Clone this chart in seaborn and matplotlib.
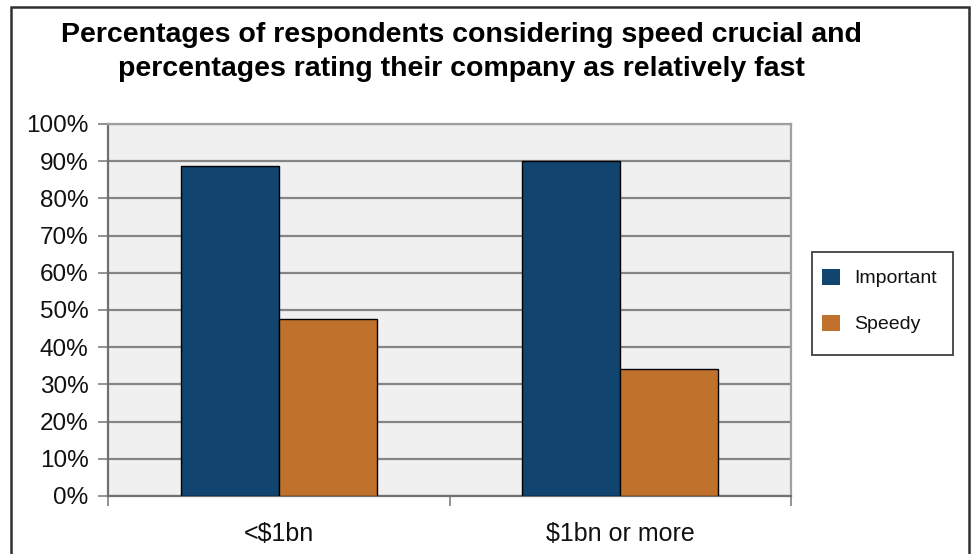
import matplotlib
matplotlib.use("Agg")
import matplotlib.pyplot as plt
import seaborn as sns
import pandas as pd
from matplotlib.patches import Rectangle

categories = ["<$1bn", "$1bn or more"]
important = [88.7, 90.0]
speedy = [47.7, 34.2]
series_names = ["Important", "Speedy"]
y_ticks = [0, 10, 20, 30, 40, 50, 60, 70, 80, 90, 100]

df = pd.DataFrame({
    "category": categories * 2,
    "value": important + speedy,
    "series": [series_names[0]] * 2 + [series_names[1]] * 2,
})

sns.set_theme(style="white")
plt.rcParams["font.family"] = ["Liberation Sans", "DejaVu Sans"]

fig = plt.figure(figsize=(9.71, 5.54), dpi=100)
ax = fig.add_axes([108 / 971, 58 / 554, 683 / 971, 372 / 554])
ax.set_facecolor("#f0f0f0")

palette = {"Important": "#114570", "Speedy": "#c0712c"}
sns.barplot(data=df, x="category", y="value", hue="series", palette=palette,
            width=0.574, gap=0, edgecolor="black", linewidth=1.0,
            saturation=1, ax=ax, zorder=3)

ax.set_ylim(0, 100)
ax.set_xlim(-0.5, 1.5)
ax.set_yticks(y_ticks)
ax.set_yticklabels([f"{t}%" for t in y_ticks], fontsize=17.5, color="#111111")
ax.yaxis.grid(True, color="#858585", linewidth=1.6, zorder=0)
ax.set_axisbelow(True)
ax.set_xlabel("")
ax.set_ylabel("")
ax.tick_params(axis="y", length=7, width=1.2, color="#808080", pad=7, left=True)
ax.tick_params(axis="x", which="major", length=0, pad=19, labelsize=18,
               labelcolor="#111111")
ax.set_xticks([-0.5, 0.5, 1.5], minor=True)
ax.tick_params(axis="x", which="minor", length=7, width=1.2, color="#808080",
               bottom=True)

for side in ["top", "right"]:
    ax.spines[side].set_color("#a0a0a0")
    ax.spines[side].set_linewidth(1.6)
for side in ["left", "bottom"]:
    ax.spines[side].set_color("#707070")
    ax.spines[side].set_linewidth(1.6)

# legend entries (frame drawn separately)
leg = ax.legend(loc="center left", bbox_to_anchor=(822 / 971, 1 - 301 / 554),
                bbox_transform=fig.transFigure, frameon=False, fontsize=14,
                handlelength=0.9, handleheight=0.9, labelspacing=1.4,
                borderpad=0, handletextpad=0.75, borderaxespad=0)
for t in leg.get_texts():
    t.set_color("#111111")
for h in leg.legend_handles:
    h.set_edgecolor("none")
frame = Rectangle((812 / 971, 1 - 355 / 554), (953 - 812) / 971, 103 / 554,
                  transform=fig.transFigure, fill=False,
                  edgecolor="#404040", linewidth=1.3, zorder=5)
fig.patches.append(frame)

fig.text(461 / 971, 1 - 52 / 554,
         "Percentages of respondents considering speed crucial and\n"
         "percentages rating their company as relatively fast",
         ha="center", va="center", fontsize=20.5, fontweight="bold",
         linespacing=1.45, color="black")

border = Rectangle((11 / 971, -0.05), (969 - 11) / 971, 1 - 7 / 554 + 0.05,
                   transform=fig.transFigure, fill=False, edgecolor="#303030",
                   linewidth=1.8, clip_on=False)
fig.patches.append(border)

fig.savefig("out.png", dpi=100)
